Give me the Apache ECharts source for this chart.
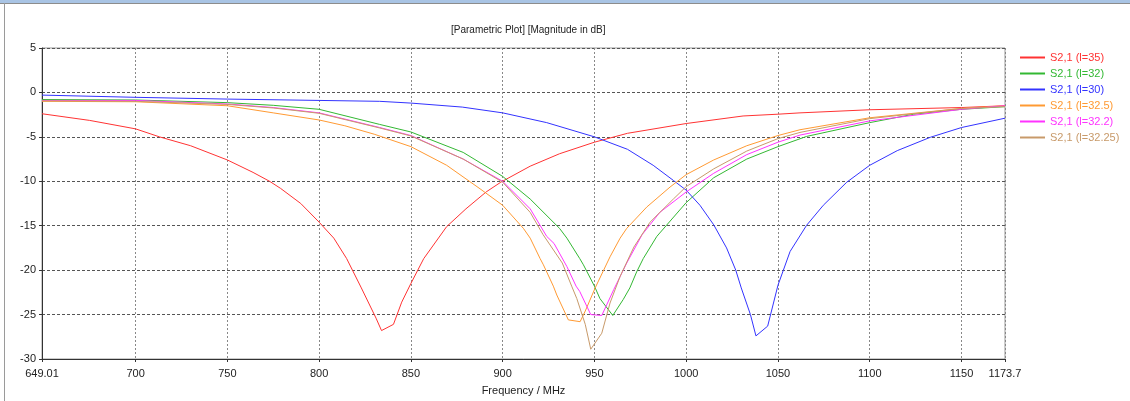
<!DOCTYPE html>
<html>
<head>
<meta charset="utf-8">
<script src="https://cdn.jsdelivr.net/npm/echarts@6/dist/echarts.min.js"></script>
<style>
html,body{margin:0;padding:0;background:#fff;}
#c{width:1130px;height:401px;}
</style>
</head>
<body>
<div id="c"></div>
<script>
// ---- data ----
const titleText = '[Parametric Plot] [Magnitude in dB]';
const xName = 'Frequency / MHz';
const xTicks = [649.01, 700, 750, 800, 850, 900, 950, 1000, 1050, 1100, 1150, 1173.7];
const seriesNames = ['S2,1 (l=35)', 'S2,1 (l=32)', 'S2,1 (l=30)', 'S2,1 (l=32.5)', 'S2,1 (l=32.2)', 'S2,1 (l=32.25)'];
const seriesColors = ['#ff3333', '#33b833', '#3333ff', '#ff9a33', '#ff33ff', '#c89a6a'];

const s_l35 = [[649.01,-2.4],[675,-3.15],[700,-4.1],[713,-5.0],[730,-6.0],[750,-7.6],[764,-9.0],[773,-10.0],[779,-10.8],[790,-12.5],[800,-14.6],[808,-16.4],[815,-18.7],[823,-22.0],[831,-25.4],[834,-26.8],[840.5,-26.1],[845,-23.6],[850,-21.5],[857,-18.7],[869.5,-15.1],[880,-13.1],[891,-11.2],[899,-10.1],[915,-8.3],[931,-6.9],[950,-5.6],[968,-4.6],[1000,-3.5],[1031,-2.65],[1050,-2.45],[1062,-2.3],[1100,-1.95],[1150,-1.7],[1173.7,-1.5]];
const s_l32 = [[649.01,-0.8],[700,-0.85],[750,-1.15],[775,-1.45],[800,-1.9],[833,-3.6],[850,-4.45],[878.5,-6.75],[900,-9.45],[915,-12.0],[931,-15.3],[935,-16.4],[942,-18.7],[944,-19.4],[950,-21.8],[953,-23.2],[960,-25.1],[965.7,-23.3],[969.3,-22.0],[973,-20.2],[976.6,-18.7],[984,-16.2],[1000,-12.4],[1015,-9.6],[1033,-7.5],[1050,-6.1],[1065.6,-4.95],[1100,-3.4],[1124,-2.45],[1150,-1.9],[1173.7,-1.6]];
const s_l30 = [[649.01,-0.3],[700,-0.55],[750,-0.75],[800,-0.9],[833,-1.0],[850,-1.2],[878,-1.65],[900,-2.3],[924,-3.4],[950,-5.0],[968,-6.4],[982,-8.2],[993,-9.9],[1000,-11.0],[1007.5,-12.7],[1015,-14.9],[1022,-17.5],[1027,-20.0],[1030,-22.0],[1035,-25.0],[1038,-27.4],[1044.4,-26.3],[1050,-21.7],[1056.6,-17.9],[1065.6,-14.95],[1074.7,-12.7],[1087.5,-10.1],[1100,-8.2],[1115,-6.55],[1133,-5.05],[1150,-3.95],[1173.7,-2.9]];
const s_l325 = [[649.01,-1.0],[700,-1.05],[750,-1.5],[775,-2.3],[800,-3.1],[814,-3.75],[830,-4.7],[850,-6.1],[869.5,-8.2],[887.7,-10.85],[900,-12.7],[911.3,-15.3],[915,-16.4],[920.4,-18.7],[922.2,-19.4],[927.6,-21.8],[929.5,-22.8],[935.8,-25.6],[942.2,-25.8],[945,-24.6],[950.4,-22.0],[958.5,-18.5],[964,-16.4],[967.6,-15.3],[978.5,-12.9],[991.2,-10.65],[1000,-9.25],[1015,-7.6],[1033,-6.0],[1050,-4.85],[1062,-4.2],[1100,-2.85],[1150,-1.8],[1173.7,-1.5]];
const s_l322 = [[649.01,-0.9],[700,-0.9],[750,-1.3],[775,-1.7],[800,-2.3],[833,-3.95],[850,-4.85],[878.5,-7.5],[900,-10.0],[915,-13.1],[924,-16.2],[928,-17.0],[935,-19.6],[940,-21.8],[942,-22.4],[948,-25.0],[954,-25.1],[960.5,-22.2],[967.6,-19.2],[976,-16.0],[985.6,-13.5],[1000,-11.2],[1015,-9.1],[1033,-7.0],[1050,-5.6],[1062,-4.8],[1100,-3.2],[1150,-1.9],[1173.7,-1.5]];
const s_l3225 = [[649.01,-0.95],[700,-1.0],[750,-1.35],[775,-1.75],[800,-2.35],[833,-4.0],[850,-4.9],[878.5,-7.5],[900,-10.1],[915,-13.5],[922,-16.0],[932.5,-19.2],[937.6,-21.8],[940.4,-23.2],[945,-26.1],[948,-28.9],[954,-27.1],[958.5,-23.7],[964,-20.7],[971.5,-17.4],[980.3,-14.6],[993,-12.0],[1000,-10.6],[1015,-8.6],[1033,-6.6],[1050,-5.2],[1062,-4.5],[1100,-2.95],[1150,-1.8],[1173.7,-1.6]];
const seriesData = [s_l35, s_l32, s_l30, s_l325, s_l322, s_l3225];

// ---- chart ----
const chart = echarts.init(document.getElementById('c'), null, {renderer: 'canvas'});
const FONT = 'Liberation Sans';
const option = {
  animation: false,
  backgroundColor: '#fff',
  title: {
    text: titleText,
    left: 446, top: 20,
    textStyle: {fontFamily: FONT, fontSize: 10, fontWeight: 'normal', color: '#222'}
  },
  legend: {
    orient: 'vertical',
    left: 1015, top: 47,
    itemWidth: 25, itemHeight: 13, itemGap: 5,
    icon: 'path://M0,0H25V2H0Z',
    textStyle: {fontFamily: FONT, fontSize: 11},
    data: seriesNames.map((n, i) => ({name: n, textStyle: {color: seriesColors[i]}}))
  },
  grid: {
    left: 42, right: 125, top: 48, bottom: 41,
    show: true, borderColor: '#999', borderWidth: 1
  },
  xAxis: {
    type: 'value',
    min: 649.01, max: 1173.7,
    name: xName, nameLocation: 'middle', nameGap: 26,
    nameTextStyle: {fontFamily: FONT, fontSize: 11, color: '#222'},
    axisLine: {onZero: false, lineStyle: {color: '#333'}},
    axisTick: {show: true, length: 3, customValues: xTicks, lineStyle: {color: '#333'}},
    axisLabel: {customValues: xTicks, fontFamily: FONT, fontSize: 11, color: '#222', margin: 9,
      formatter: v => String(v)},
    splitLine: {show: true, lineStyle: {color: '#888', type: [2, 2], width: 1}}
  },
  yAxis: {
    type: 'value',
    min: -30, max: 5, interval: 5,
    axisLine: {show: true, onZero: false, lineStyle: {color: '#333'}},
    axisTick: {show: true, length: 3, lineStyle: {color: '#333'}},
    axisLabel: {fontFamily: FONT, fontSize: 11, color: '#222', margin: 6},
    splitLine: {show: true, lineStyle: {color: '#555', type: [3, 2], width: 1}}
  },
  series: seriesNames.map((n, i) => ({
    name: n, type: 'line', data: seriesData[i],
    symbol: 'none', smooth: false,
    lineStyle: {width: 1, color: seriesColors[i]},
    itemStyle: {color: seriesColors[i]}
  })),
  graphic: [
    {type: 'rect', shape: {x: 0, y: 0, width: 1130, height: 3}, style: {fill: '#a9c4e4'}},
    {type: 'rect', shape: {x: 0, y: 3, width: 1130, height: 1}, style: {fill: '#8c8c8c'}},
    {type: 'rect', shape: {x: 4, y: 3, width: 1, height: 398}, style: {fill: '#9a9a9a'}}
  ]
};
chart.setOption(option);
</script>
</body>
</html>
